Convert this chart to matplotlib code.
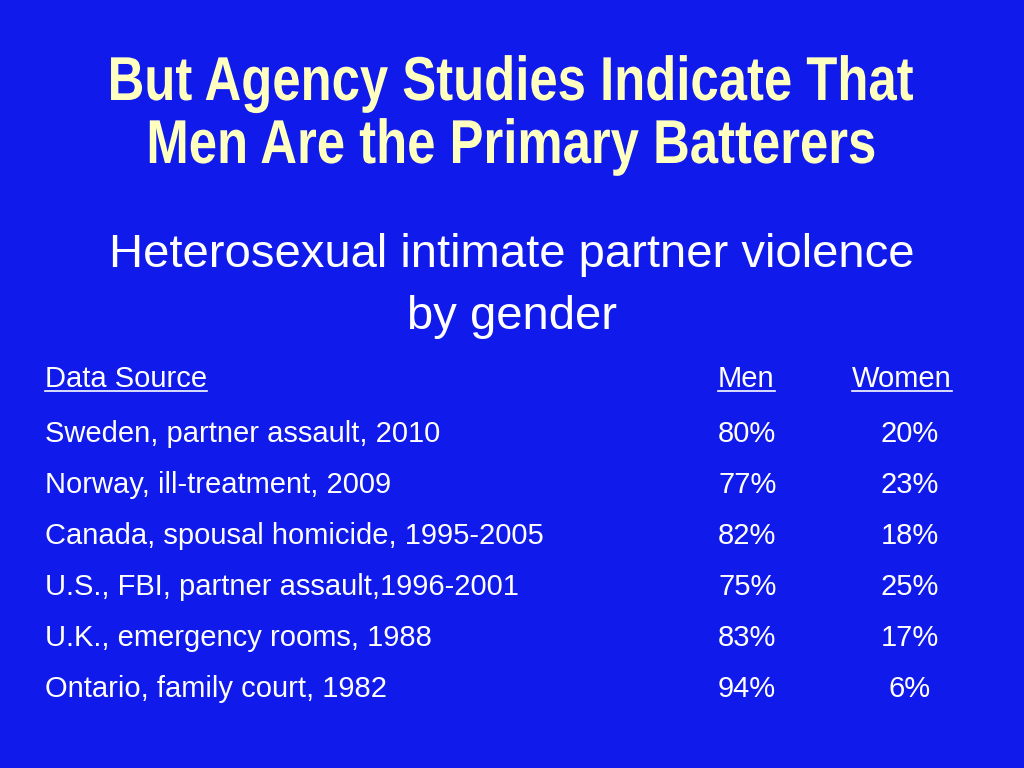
import matplotlib
matplotlib.use("Agg")
import matplotlib.pyplot as plt
from matplotlib.lines import Line2D
from matplotlib.patches import PathPatch
from matplotlib.textpath import TextPath
from matplotlib.font_manager import FontProperties, fontManager
from matplotlib.transforms import Affine2D

title_lines = ["But Agency Studies Indicate That", "Men Are the Primary Batterers"]
subtitle_lines = ["Heterosexual intimate partner violence", "by gender"]
headers = ["Data Source", "Men", "Women"]
sources = [
    "Sweden, partner assault, 2010",
    "Norway, ill-treatment, 2009",
    "Canada, spousal homicide, 1995-2005",
    "U.S., FBI, partner assault,1996-2001",
    "U.K., emergency rooms, 1988",
    "Ontario, family court, 1982",
]
men = ["80%", "77%", "82%", "75%", "83%", "94%"]
women = ["20%", "23%", "18%", "25%", "17%", "6%"]

W, H = 1024, 768
bg = "#0F1AEB"
names = {f.name for f in fontManager.ttflist}
sans = next((n for n in ["Liberation Sans", "Arimo", "Arial", "Roboto"] if n in names), "DejaVu Sans")
narrow = "Liberation Sans Narrow" if "Liberation Sans Narrow" in names else sans
squeeze = 1.0 if narrow != sans else 0.82

fig = plt.figure(figsize=(W / 100, H / 100), dpi=100, facecolor=bg)
ax = fig.add_axes([0, 0, 1, 1])
ax.set_xlim(0, W)
ax.set_ylim(H, 0)
ax.axis("off")

# title, drawn as paths so it can be condensed
tprop = FontProperties(family=narrow, weight="bold")
for y, line in zip([100, 163], title_lines):
    tp = TextPath((0, 0), line, size=62, prop=tprop)
    bb = tp.get_extents()
    tr = Affine2D().translate(-(bb.x0 + bb.x1) / 2, 0).scale(squeeze, -1).translate(512, y)
    ax.add_patch(PathPatch(tr.transform_path(tp), color="#FFFFC0", lw=0))

# subtitle
for y, line in zip([255, 317], subtitle_lines):
    ax.text(512, y, line, ha="center", va="center", color="white",
            fontsize=34, family=sans)

# table header (underlined)
font = dict(color="white", fontsize=21, family=sans, va="baseline")
hdr = [ax.text(45, 387, headers[0], ha="left", **font),
       ax.text(718, 387, headers[1], ha="left", **font),
       ax.text(852, 387, headers[2], ha="left", **font)]

fig.canvas.draw()
r = fig.canvas.get_renderer()
for t in hdr:
    bb = t.get_window_extent(r)
    ax.add_line(Line2D([bb.x0, bb.x1], [391, 391], color="white", lw=1.2))

rows_y = [442, 493, 544, 595, 646, 697]
for y, s, m, w in zip(rows_y, sources, men, women):
    ax.text(45, y, s, ha="left", **font)
    ax.text(718, y, m, ha="left", **font)
    ax.text(910, y, w, ha="center", **font)

fig.savefig("out.png", dpi=100, facecolor=bg)
